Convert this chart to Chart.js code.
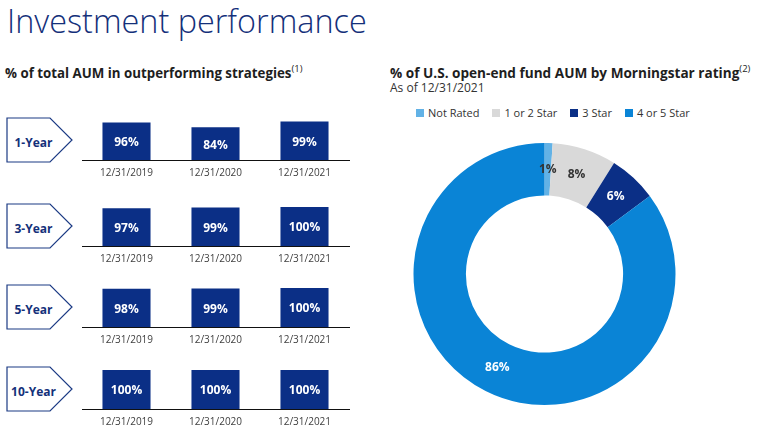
<!DOCTYPE html>
<html><head><meta charset="utf-8">
<script src="https://cdn.jsdelivr.net/npm/chart.js@4.4.1/dist/chart.umd.min.js"></script>
<style>
html,body{margin:0;padding:0;background:#fff;}
body{width:765px;height:435px;position:relative;overflow:hidden;font-family:"Open Sans",sans-serif;color:#222;}
.abs{position:absolute;white-space:nowrap;}
#title{left:7px;top:-2px;font-size:32.4px;font-weight:300;color:#14307a;line-height:44px;}
.sub{font-size:13.3px;font-weight:700;color:#1e1e1e;line-height:16px;}
.sub sup{font-size:9.5px;font-weight:400;vertical-align:6px;line-height:0;}
#asof{left:390px;top:80px;font-size:12px;color:#333;line-height:16px;}
#legend{left:416px;top:105px;display:flex;font-size:11px;color:#333;line-height:16px;}
#legend .item{display:flex;align-items:center;margin-right:13px;}
#legend .sw{width:8px;height:8px;margin-right:4px;}
canvas{position:absolute;}
svg{position:absolute;overflow:visible;}
</style>
</head>
<body>
<div id="title" class="abs">Investment performance</div>
<div class="abs sub" style="left:5px;top:65px;">% of total AUM in outperforming strategies<sup>(1)</sup></div>
<div class="abs sub" style="left:390px;top:65px;font-size:13.6px;">% of U.S. open-end fund AUM by Morningstar rating<sup>(2)</sup></div>
<div id="asof" class="abs">As of 12/31/2021</div>
<div id="legend" class="abs"></div>
<div id="rows"></div>
<canvas id="donut" width="281" height="280" style="left:404px;top:134px;"></canvas>
<script>
const categories = ['12/31/2019', '12/31/2020', '12/31/2021'];
const horizons = ['1-Year', '3-Year', '5-Year', '10-Year'];
const oneYear = [96, 84, 99];
const threeYear = [97, 99, 100];
const fiveYear = [98, 99, 100];
const tenYear = [100, 100, 100];
const ratingLabels = ['Not Rated', '1 or 2 Star', '3 Star', '4 or 5 Star'];
const ratingValues = [1, 8, 6, 86];

const NAVY = '#0b2f86';
const ratingColors = ['#62b2e6', '#d9d9d9', '#0b2f86', '#0a84d6'];
const ratingTextColors = ['#333333', '#333333', '#ffffff', '#ffffff'];
const rowSeries = [oneYear, threeYear, fiveYear, tenYear];
const rowBaselines = [160, 246, 327, 409];

const barValueLabels = {
  id: 'barValueLabels',
  afterDatasetsDraw(chart) {
    const ctx = chart.ctx;
    const meta = chart.getDatasetMeta(0);
    const ds = chart.data.datasets[0];
    ctx.save();
    ctx.font = 'bold 12px "Open Sans", sans-serif';
    ctx.fillStyle = '#ffffff';
    ctx.textAlign = 'center';
    ctx.textBaseline = 'middle';
    meta.data.forEach((el, i) => {
      ctx.fillText(ds.data[i] + '%', el.x, (el.y + el.base) / 2 + 1.5);
    });
    ctx.restore();
  }
};

const donutLabels = {
  id: 'donutLabels',
  afterDatasetsDraw(chart) {
    const ctx = chart.ctx;
    const meta = chart.getDatasetMeta(0);
    const ds = chart.data.datasets[0];
    ctx.save();
    ctx.font = 'bold 12px "Open Sans", sans-serif';
    ctx.textAlign = 'center';
    ctx.textBaseline = 'middle';
    meta.data.forEach((el, i) => {
      const p = el.tooltipPosition();
      ctx.fillStyle = ratingTextColors[i];
      ctx.fillText(ds.data[i] + '%', p.x, p.y);
    });
    ctx.restore();
  }
};

const rows = document.getElementById('rows');
const SVGNS = 'http://www.w3.org/2000/svg';
rowSeries.forEach((values, r) => {
  const base = rowBaselines[r];
  const svg = document.createElementNS(SVGNS, 'svg');
  svg.setAttribute('width', '70');
  svg.setAttribute('height', '48');
  svg.style.left = '6px';
  svg.style.top = (base - 43) + 'px';
  const poly = document.createElementNS(SVGNS, 'polygon');
  poly.setAttribute('points', '1,1 44,1 66,23 44,45 1,45');
  poly.setAttribute('fill', '#ffffff');
  poly.setAttribute('stroke', '#1b3a84');
  poly.setAttribute('stroke-width', '1.2');
  svg.appendChild(poly);
  const txt = document.createElementNS(SVGNS, 'text');
  txt.setAttribute('x', '27.5');
  txt.setAttribute('y', '25');
  txt.setAttribute('text-anchor', 'middle');
  txt.setAttribute('dominant-baseline', 'central');
  txt.setAttribute('font-family', 'Open Sans, sans-serif');
  txt.setAttribute('font-weight', '700');
  txt.setAttribute('font-size', '12');
  txt.setAttribute('fill', '#14307a');
  txt.textContent = horizons[r];
  svg.appendChild(txt);
  rows.appendChild(svg);
  const cv = document.createElement('canvas');
  cv.width = 360; cv.height = 66;
  cv.style.left = '0px';
  cv.style.top = (base - 44) + 'px';
  rows.appendChild(cv);
  new Chart(cv, {
    type: 'bar',
    data: {
      labels: categories,
      datasets: [{ data: values, backgroundColor: NAVY, barPercentage: 0.54, categoryPercentage: 1 }]
    },
    options: {
      responsive: false,
      animation: false,
      layout: { padding: { left: 82, right: 11, top: 5, bottom: 0 } },
      plugins: { legend: { display: false }, tooltip: { enabled: false } },
      scales: {
        x: {
          grid: { display: false, drawTicks: false },
          border: { display: true, color: '#111111', width: 1 },
          ticks: { color: '#404040', font: { size: 10, family: '"Open Sans", sans-serif' }, padding: 7, maxRotation: 0 },
          afterFit(s) { s.height = 22; }
        },
        y: { display: false, min: 0, max: 100 }
      }
    },
    plugins: [barValueLabels]
  });
});

const legend = document.getElementById('legend');
ratingLabels.forEach((lab, i) => {
  const it = document.createElement('div');
  it.className = 'item';
  const sw = document.createElement('span');
  sw.className = 'sw';
  sw.style.background = ratingColors[i];
  const t = document.createElement('span');
  t.textContent = lab;
  it.appendChild(sw); it.appendChild(t);
  legend.appendChild(it);
});

new Chart(document.getElementById('donut'), {
  type: 'doughnut',
  data: {
    labels: ratingLabels,
    datasets: [{ data: ratingValues, backgroundColor: ratingColors, borderWidth: 0 }]
  },
  options: {
    responsive: false,
    animation: false,
    cutout: '60%',
    layout: { padding: 9 },
    plugins: { legend: { display: false }, tooltip: { enabled: false } }
  },
  plugins: [donutLabels]
});
</script>
</body></html>
